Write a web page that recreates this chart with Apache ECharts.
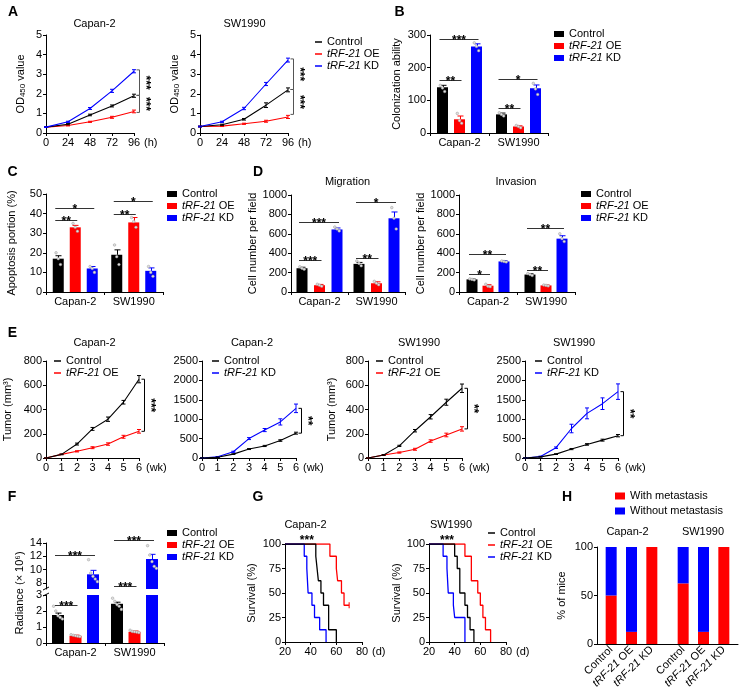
<!DOCTYPE html>
<html><head><meta charset="utf-8">
<script src="https://cdn.jsdelivr.net/npm/echarts@6.0.0/dist/echarts.min.js"></script>
<style>html,body{margin:0;padding:0;background:#fff;}#chart{width:749px;height:689px;}</style>
</head><body><div id="chart"></div>
<script>
// ================= DATA =================
const cellLines = ['Capan-2', 'SW1990'];
const groupNames = ['Control', 'tRF-21 OE', 'tRF-21 KD'];

// A: OD450 growth curves
const hoursA = [0, 24, 48, 72, 96];
const odCapanCtrl = [0.30, 0.45, 0.92, 1.38, 1.90];
const odCapanOE   = [0.30, 0.38, 0.57, 0.80, 1.10];
const odCapanKD   = [0.30, 0.57, 1.25, 2.15, 3.15];
const odCapanCtrlErr = [0.02, 0.03, 0.04, 0.05, 0.08];
const odCapanOEErr   = [0.02, 0.02, 0.03, 0.05, 0.07];
const odCapanKDErr   = [0.02, 0.03, 0.05, 0.08, 0.08];
const odSwCtrl = [0.33, 0.42, 0.70, 1.42, 2.20];
const odSwOE   = [0.33, 0.35, 0.47, 0.60, 0.82];
const odSwKD   = [0.33, 0.57, 1.25, 2.50, 3.72];
const odSwCtrlErr = [0.02, 0.03, 0.04, 0.12, 0.10];
const odSwOEErr   = [0.02, 0.02, 0.03, 0.05, 0.08];
const odSwKDErr   = [0.02, 0.03, 0.06, 0.08, 0.10];

// B: colonization ability [Capan-2, SW1990]
const colonyCtrl = [140, 57];
const colonyOE   = [42, 20];
const colonyKD   = [265, 137];
const colonyCtrlErr = [6, 4];
const colonyOEErr   = [10, 2];
const colonyKDErr   = [8, 10];
const colonyCtrlDots = [[146, 138, 127], [62, 57, 52]];
const colonyOEDots   = [[60, 38, 30], [23, 20, 16]];
const colonyKDDots   = [[276, 265, 252], [152, 135, 118]];

// C: apoptosis portion (%)
const apoCtrl = [17, 19];
const apoOE   = [33, 35.5];
const apoKD   = [12, 10.8];
const apoCtrlErr = [1.5, 2.5];
const apoOEErr   = [1.0, 2.5];
const apoKDErr   = [1.0, 1.5];
const apoCtrlDots = [[20, 17, 14], [24, 18, 14]];
const apoOEDots   = [[35, 33, 31], [38, 36, 33]];
const apoKDDots   = [[13, 12, 10], [13, 10, 8]];

// D: migration / invasion cell number per field
const migCtrl = [245, 290];
const migOE   = [70, 90];
const migKD   = [645, 760];
const migCtrlErr = [10, 15];
const migOEErr   = [8, 15];
const migKDErr   = [15, 65];
const migCtrlDots = [[260, 245, 235], [320, 295, 270]];
const migOEDots   = [[80, 70, 60], [110, 90, 75]];
const migKDDots   = [[670, 650, 630], [870, 760, 650]];
const invCtrl = [130, 180];
const invOE   = [65, 68];
const invKD   = [315, 550];
const invCtrlErr = [5, 8];
const invOEErr   = [10, 5];
const invKDErr   = [8, 30];
const invCtrlDots = [[135, 130, 125], [190, 180, 170]];
const invOEDots   = [[80, 60, 55], [72, 68, 63]];
const invKDDots   = [[320, 315, 310], [600, 550, 520]];

// E: tumor volume (mm3) by week
const weeksE = [0, 1, 2, 3, 4, 5, 6];
const tumorCapanCtrl  = [0, 30, 115, 240, 320, 460, 650];
const tumorCapanOE    = [0, 30, 55, 85, 115, 175, 220];
const tumorCapanCtrlErr = [0, 3, 8, 12, 18, 15, 30];
const tumorCapanOEErr   = [0, 2, 5, 8, 10, 12, 15];
const tumorCapan2Ctrl = [0, 20, 100, 230, 310, 450, 640];
const tumorCapan2KD   = [0, 30, 160, 500, 720, 930, 1280];
const tumorCapan2CtrlErr = [0, 4, 8, 12, 15, 20, 25];
const tumorCapan2KDErr   = [0, 5, 15, 25, 40, 80, 110];
const tumorSwCtrl = [0, 25, 100, 225, 340, 460, 575];
const tumorSwOE   = [0, 25, 45, 72, 140, 190, 240];
const tumorSwCtrlErr = [0, 3, 5, 10, 18, 25, 35];
const tumorSwOEErr   = [0, 3, 5, 8, 10, 15, 18];
const tumorSw2Ctrl = [0, 30, 100, 230, 350, 460, 575];
const tumorSw2KD   = [0, 40, 265, 760, 1150, 1400, 1710];
const tumorSw2CtrlErr = [0, 5, 10, 15, 20, 25, 30];
const tumorSw2KDErr   = [0, 8, 20, 110, 140, 150, 200];

// F: radiance (x10^6)
const radCtrl = [1.75, 2.45];
const radOE   = [0.45, 0.70];
const radKD   = [9.3, 11.6];
const radCtrlErr = [0.12, 0.10];
const radOEErr   = [0.04, 0.05];
const radKDErr   = [0.6, 0.7];
const radCtrlDots = [[2.3, 2.0, 1.7, 1.6, 1.5], [2.8, 2.6, 2.4, 2.3, 2.1]];
const radOEDots   = [[0.52, 0.48, 0.45, 0.42, 0.40], [0.80, 0.72, 0.70, 0.68, 0.65]];
const radKDDots   = [[11.5, 9.5, 9.0, 8.6, 8.2], [13.6, 12.2, 11.2, 10.5, 10.2]];

// G: survival (%) by day
const survCapanCtrlDays = [20, 44, 45, 46, 48, 50, 54, 60];
const survCapanCtrl     = [100, 87.5, 75, 62.5, 50, 37.5, 12.5, 0];
const survCapanOEDays   = [20, 55, 60, 61, 64, 66, 70];
const survCapanOE       = [100, 87.5, 75, 62.5, 50, 37.5, 37.5];
const survCapanKDDays   = [20, 35, 37, 38, 41, 43, 47, 52];
const survCapanKD       = [100, 87.5, 75, 50, 37.5, 25, 12.5, 0];
const survSwCtrlDays = [20, 40, 42, 44, 48, 50, 52, 55];
const survSwCtrl     = [100, 87.5, 75, 50, 37.5, 25, 12.5, 0];
const survSwOEDays   = [20, 48, 53, 58, 60, 62, 64, 68];
const survSwOE       = [100, 87.5, 62.5, 50, 37.5, 25, 12.5, 0];
const survSwKDDays   = [20, 31, 34, 35, 39, 40, 48];
const survSwKD       = [100, 87.5, 75, 50, 37.5, 25, 0];
const censorCapanOE = [[70, 37.5]];

// H: % of mice with / without metastasis
const metCats = ['Control', 'tRF-21 OE', 'tRF-21 KD'];
const metCapanWith    = [50, 12.5, 100];
const metCapanWithout = [50, 87.5, 0];
const metSwWith       = [62.5, 12.5, 100];
const metSwWithout    = [37.5, 87.5, 0];

// ================= STYLE / HELPERS =================
const F = '"Liberation Sans", Arial, Helvetica, sans-serif';
const COL = ['#000000', '#ff0000', '#0000ff'];
const grids = [], xAxes = [], yAxes = [], series = [], legends = [], graphics = [];

const AL = {show: true, onZero: false, lineStyle: {color: '#000', width: 1}};
const AT = {show: true, length: 3, lineStyle: {color: '#000', width: 1}};
function lbl(o) { return Object.assign({color: '#000', fontFamily: F, fontSize: 11, margin: 4}, o || {}); }
function plain(v) { return String(v); }
function vAxis(min, max, interval, o) {
  return Object.assign({type: 'value', min: min, max: max, interval: interval, axisLine: AL, axisTick: AT,
    axisLabel: lbl({formatter: plain}), splitLine: {show: false}}, o || {});
}
function catAxis(o) {
  return Object.assign({type: 'category', data: cellLines, axisLine: AL,
    axisTick: {show: true, length: 3, lineStyle: {color: '#000'}},
    axisLabel: lbl({fontSize: 11, margin: 4, interval: 0}), splitLine: {show: false}}, o || {});
}
function yName(name, gap, rich) {
  return {name: name, nameLocation: 'middle', nameGap: gap,
    nameTextStyle: {color: '#000', fontFamily: F, fontSize: 11, rich: rich}};
}
function xEndName(name, gap) {
  return {name: name, nameLocation: 'end', nameGap: gap,
    nameTextStyle: {color: '#000', fontFamily: F, fontSize: 11, align: 'left', verticalAlign: 'top', padding: [4, 0, 0, 0]}};
}
function addGrid(g, x, y) {
  const gi = grids.length;
  grids.push(Object.assign({containLabel: false, outerBoundsMode: 'none'}, g));
  xAxes.push(Object.assign({gridIndex: gi}, x));
  yAxes.push(Object.assign({gridIndex: gi}, y));
  return gi;
}
const richLegend = {
  i: {fontStyle: 'italic', fontFamily: F, fontSize: 11, color: '#000', lineHeight: 12},
  n: {fontFamily: F, fontSize: 11, color: '#000', lineHeight: 12}
};
function fmtName(n) { return n.indexOf('tRF-21') === 0 ? '{i|tRF-21}{n| ' + n.slice(7) + '}' : '{n|' + n + '}'; }
function addLegend(names, left, top, kind, o) {
  const bar = kind === 'bar';
  legends.push(Object.assign({orient: 'vertical', left: left, top: top, data: names, icon: 'rect',
    itemWidth: bar ? 10 : 7, itemHeight: bar ? 6 : 1.5, itemGap: 0, padding: 0, selectedMode: false,
    formatter: fmtName, textStyle: {color: '#000', fontFamily: F, fontSize: 11, lineHeight: 12, rich: richLegend}}, o || {}));
}
function txt(text, x, y, styleExtra, rotation) {
  graphics.push({type: 'text', x: x, y: y, rotation: rotation || 0, silent: true,
    style: Object.assign({text: text, fill: '#000', font: '11px ' + F, align: 'center', verticalAlign: 'middle'}, styleExtra || {})});
}
const STAR_FONT = 'bold 12px ' + F;

function errLine(gi, xs, ys, es, color) {
  return {type: 'custom', xAxisIndex: gi, yAxisIndex: gi, silent: true, z: 4,
    data: xs.map((x, i) => [x, ys[i], es[i]]),
    renderItem(p, api) {
      const x = api.value(0), y = api.value(1), e = api.value(2);
      const t = api.coord([x, y + e]), b = api.coord([x, y - e]);
      const st = {stroke: color, lineWidth: 1};
      return {type: 'group', children: [
        {type: 'line', shape: {x1: t[0], y1: t[1], x2: b[0], y2: b[1]}, style: st},
        {type: 'line', shape: {x1: t[0] - 2, y1: t[1], x2: t[0] + 2, y2: t[1]}, style: st},
        {type: 'line', shape: {x1: b[0] - 2, y1: b[1], x2: b[0] + 2, y2: b[1]}, style: st}]};
    }};
}
function lineSer(gi, name, color, xs, ys, w) {
  return {type: 'line', name: name, xAxisIndex: gi, yAxisIndex: gi, data: xs.map((x, i) => [x, ys[i]]),
    symbol: 'none', lineStyle: {color: color, width: w || 1.2}, itemStyle: {color: color}, z: 3, silent: true};
}
function vBracket(gi, x, segs, labels, dx, color) {
  return {type: 'custom', xAxisIndex: gi, yAxisIndex: gi, silent: true, z: 6,
    data: segs.map(s => [x, s[0], s[1]]),
    renderItem(p, api) {
      const a = api.coord([api.value(0), api.value(1)]), b = api.coord([api.value(0), api.value(2)]);
      const X = Math.round(a[0] + dx) + 0.5; const st = {stroke: color, lineWidth: 1};
      return {type: 'group', children: [
        {type: 'line', shape: {x1: X, y1: a[1], x2: X, y2: b[1]}, style: st},
        {type: 'line', shape: {x1: X - 3, y1: a[1], x2: X, y2: a[1]}, style: st},
        {type: 'line', shape: {x1: X - 3, y1: b[1], x2: X, y2: b[1]}, style: st},
        {type: 'text', x: X + 6, y: (a[1] + b[1]) / 2, rotation: -Math.PI / 2,
          style: {text: labels[p.dataIndex], align: 'center', verticalAlign: 'middle', fill: '#000', font: STAR_FONT}}]};
    }};
}
function barErr(gi, vals, errs, step, keep) {
  const data = [];
  for (let k = 0; k < 3; k++) for (let c = 0; c < vals[k].length; c++)
    if (keep(vals[k][c])) data.push([c, k, vals[k][c], errs[k][c]]);
  return {type: 'custom', xAxisIndex: gi, yAxisIndex: gi, silent: true, z: 4, data: data,
    renderItem(p, api) {
      const c = api.value(0), k = api.value(1), v = api.value(2), e = api.value(3);
      const base = api.coord([c, v]); const x = Math.round(base[0] + (k - 1) * step) + 0.5;
      const yt = api.coord([c, v + e])[1]; const col = COL[k];
      return {type: 'group', children: [
        {type: 'line', shape: {x1: x, y1: base[1], x2: x, y2: yt}, style: {stroke: col, lineWidth: 1}},
        {type: 'line', shape: {x1: x - 3, y1: yt, x2: x + 3, y2: yt}, style: {stroke: col, lineWidth: 1}}]};
    }};
}
function barDots(gi, dots, step, keep) {
  const data = [];
  dots.forEach((grp, k) => grp.forEach((arr, c) => arr.forEach((v, j) => { if (keep(v)) data.push([c, k, v, j, arr.length]); })));
  return {type: 'custom', xAxisIndex: gi, yAxisIndex: gi, silent: true, z: 5, data: data,
    renderItem(p, api) {
      const c = api.value(0), k = api.value(1), v = api.value(2), j = api.value(3), n = api.value(4);
      const pt = api.coord([c, v]);
      const x = pt[0] + (k - 1) * step + (j - (n - 1) / 2) * 2.2;
      return {type: 'circle', shape: {cx: x, cy: pt[1], r: 1.3}, style: {fill: '#e0e0e0', stroke: '#999', lineWidth: 0.5}};
    }};
}
function barBrackets(gi, list, step) {
  return {type: 'custom', xAxisIndex: gi, yAxisIndex: gi, silent: true, z: 6,
    data: list.map(b => [b[0], b[1], b[2], b[3]]),
    renderItem(p, api) {
      const c = api.value(0), k1 = api.value(1), k2 = api.value(2), y = api.value(3);
      const pt = api.coord([c, y]); const yy = Math.round(pt[1]) + 0.5;
      const x1 = pt[0] + (k1 - 1) * step - 3, x2 = pt[0] + (k2 - 1) * step + 2;
      return {type: 'group', children: [
        {type: 'line', shape: {x1: x1, y1: yy, x2: x2, y2: yy}, style: {stroke: '#333', lineWidth: 1}},
        {type: 'text', x: (x1 + x2) / 2, y: yy + 1, style: {text: list[p.dataIndex][4], align: 'center', verticalAlign: 'middle', fill: '#000', font: STAR_FONT}}]};
    }};
}
function addBarPanel(c) {
  const gi = addGrid(c.grid, catAxis(c.xOpt), vAxis(c.yMin, c.yMax, c.yInt, c.yOpt));
  const gap = ((c.step - c.bw) / c.bw * 100).toFixed(1) + '%';
  for (let k = 0; k < 3; k++)
    series.push({type: 'bar', name: groupNames[k], xAxisIndex: gi, yAxisIndex: gi, data: c.vals[k], barWidth: c.bw,
      barGap: gap, itemStyle: {color: COL[k]}, clip: true, z: 2, silent: true});
  const keep = c.keep || (() => true);
  series.push(barErr(gi, c.vals, c.errs, c.step, keep));
  series.push(barDots(gi, c.dots, c.step, keep));
  if (c.brackets) series.push(barBrackets(gi, c.brackets, c.step));
  return gi;
}

// ================= PANEL A =================
const odRich = {a: {fontSize: 11, fontFamily: F, color: '#000', lineHeight: 12},
  s: {fontSize: 8, fontFamily: F, color: '#000', verticalAlign: 'bottom', lineHeight: 8, padding: [6, 0, 0, 0]}};
[[46, odCapanCtrl, odCapanOE, odCapanKD, odCapanCtrlErr, odCapanOEErr, odCapanKDErr, [[3.22, 1.92], [1.92, 1.05]]],
 [200, odSwCtrl, odSwOE, odSwKD, odSwCtrlErr, odSwOEErr, odSwKDErr, [[3.78, 2.22], [2.22, 0.95]]]].forEach(d => {
  const gi = addGrid({left: d[0], top: 35, width: 88, height: 98},
    vAxis(0, 96, 24, xEndName('(h)', 9)),
    vAxis(0, 5, 1, yName('{a|OD}{s|450}{a| value}', 19, odRich)));
  [[1, d[2], d[5]], [0, d[1], d[4]], [2, d[3], d[6]]].forEach(l => {
    series.push(lineSer(gi, groupNames[l[0]], COL[l[0]], hoursA, l[1], 1.1));
    series.push(errLine(gi, hoursA, l[1], l[2], COL[l[0]]));
  });
  series.push(vBracket(gi, 96, d[7], ['***', '***'], 5, '#555'));
});
addLegend(groupNames, 315, 36, 'line', {textStyle: {color: '#000', fontFamily: F, fontSize: 11, lineHeight: 11.5, rich: richLegend}});

// ================= PANEL B =================
addBarPanel({grid: {left: 430, top: 35, width: 118, height: 98}, yMin: 0, yMax: 300, yInt: 100,
  yOpt: yName('Colonization ability', 28), bw: 11, step: 17,
  vals: [colonyCtrl, colonyOE, colonyKD], errs: [colonyCtrlErr, colonyOEErr, colonyKDErr],
  dots: [colonyCtrlDots, colonyOEDots, colonyKDDots],
  brackets: [[0, 0, 1, 162, '**'], [0, 0, 2, 287, '***'], [1, 0, 1, 77, '**'], [1, 0, 2, 164, '*']]});
addLegend(groupNames, 554, 28, 'bar');

// ================= PANEL C =================
addBarPanel({grid: {left: 46, top: 194, width: 117, height: 98}, yMin: 0, yMax: 50, yInt: 10,
  yOpt: yName('Apoptosis portion (%)', 29), bw: 11, step: 17,
  vals: [apoCtrl, apoOE, apoKD], errs: [apoCtrlErr, apoOEErr, apoKDErr],
  dots: [apoCtrlDots, apoOEDots, apoKDDots],
  brackets: [[0, 0, 1, 36.8, '**'], [0, 0, 2, 43.1, '*'], [1, 0, 1, 39.7, '**'], [1, 0, 2, 46.2, '*']]});
addLegend(groupNames, 167, 188, 'bar');

// ================= PANEL D =================
addBarPanel({grid: {left: 291, top: 195, width: 114, height: 97}, yMin: 0, yMax: 1000, yInt: 200,
  yOpt: yName('Cell number per field', 33), bw: 11, step: 17.5,
  vals: [migCtrl, migOE, migKD], errs: [migCtrlErr, migOEErr, migKDErr],
  dots: [migCtrlDots, migOEDots, migKDDots],
  brackets: [[0, 0, 1, 330, '***'], [0, 0, 2, 725, '***'], [1, 0, 1, 354, '**'], [1, 0, 2, 931, '*']]});
addBarPanel({grid: {left: 459, top: 195, width: 116, height: 97}, yMin: 0, yMax: 1000, yInt: 200,
  yOpt: yName('Cell number per field', 32), bw: 11, step: 16,
  vals: [invCtrl, invOE, invKD], errs: [invCtrlErr, invOEErr, invKDErr],
  dots: [invCtrlDots, invOEDots, invKDDots],
  brackets: [[0, 0, 1, 182, '*'], [0, 0, 2, 392, '**'], [1, 0, 1, 224, '**'], [1, 0, 2, 663, '**']]});
addLegend(groupNames, 581, 188, 'bar');

// ================= PANEL E =================
[[46, 93, 800, 200, 33, tumorCapanCtrl, tumorCapanCtrlErr, 1, tumorCapanOE, tumorCapanOEErr, '***'],
 [202, 94, 2500, 500, 0, tumorCapan2Ctrl, tumorCapan2CtrlErr, 2, tumorCapan2KD, tumorCapan2KDErr, '**'],
 [368, 94, 800, 200, 31, tumorSwCtrl, tumorSwCtrlErr, 1, tumorSwOE, tumorSwOEErr, '**'],
 [525, 93, 2500, 500, 0, tumorSw2Ctrl, tumorSw2CtrlErr, 2, tumorSw2KD, tumorSw2KDErr, '**']].forEach(d => {
  const gi = addGrid({left: d[0], top: 361, width: d[1], height: 97},
    vAxis(0, 6, 1, xEndName('(wk)', 7)),
    vAxis(0, d[2], d[3], d[4] ? yName('Tumor (mm³)', d[4]) : {}));
  series.push(lineSer(gi, groupNames[d[7]], COL[d[7]], weeksE, d[8], 1.1));
  series.push(errLine(gi, weeksE, d[8], d[9], COL[d[7]]));
  series.push(lineSer(gi, groupNames[0], COL[0], weeksE, d[5], 1.1));
  series.push(errLine(gi, weeksE, d[5], d[6], COL[0]));
  const hi = Math.max(d[5][6], d[8][6]), lo = Math.min(d[5][6], d[8][6]);
  series.push(vBracket(gi, 6, [[hi, lo]], [d[10]], 5, '#000'));
  addLegend([groupNames[0], groupNames[d[7]]], d[0] + (d[4] ? 8 : 10), 355, 'line',
    {textStyle: {color: '#000', fontFamily: F, fontSize: 11, lineHeight: 11, rich: richLegend}});
});

// ================= PANEL F (broken axis) =================
const fLow = addBarPanel({grid: {left: 46, top: 595, width: 118, height: 48}, yMin: 0, yMax: 3, yInt: 1,
  bw: 12, step: 17.5, vals: [radCtrl, radOE, radKD], errs: [radCtrlErr, radOEErr, radKDErr],
  dots: [radCtrlDots, radOEDots, radKDDots], keep: v => v <= 3,
  brackets: [[0, 0, 1, 2.39, '***']]});
addBarPanel({grid: {left: 46, top: 543, width: 118, height: 46}, yMin: 7.1, yMax: 14,
  xOpt: {show: false},
  yOpt: {axisLabel: lbl({customValues: [8, 10, 12, 14], formatter: plain}), axisTick: Object.assign({}, AT, {customValues: [8, 10, 12, 14]})},
  bw: 12, step: 17.5, vals: [radCtrl, radOE, radKD], errs: [radCtrlErr, radOEErr, radKDErr],
  dots: [radCtrlDots, radOEDots, radKDDots], keep: v => v > 7.1,
  brackets: [[0, 0, 2, 12.15, '***'], [1, 0, 1, 7.5, '***'], [1, 0, 2, 14.4, '***']]});
series.push({type: 'custom', xAxisIndex: fLow, yAxisIndex: fLow, silent: true, z: 7, data: [[0, 0]],
  renderItem(p) {
    const x = p.coordSys.x, y = p.coordSys.y;
    return {type: 'group', children: [
      {type: 'line', shape: {x1: x - 3, y1: y + 1, x2: x + 3, y2: y - 2}, style: {stroke: '#000', lineWidth: 1}},
      {type: 'line', shape: {x1: x - 3, y1: y - 5, x2: x + 3, y2: y - 8}, style: {stroke: '#000', lineWidth: 1}}]};
  }});
txt('Radiance (× 10⁶)', 20, 593, {}, Math.PI / 2);
addLegend(groupNames, 167, 527, 'bar');

// ================= PANEL G =================
function survSer(gi, name, color, days, vals) {
  return {type: 'line', name: name, xAxisIndex: gi, yAxisIndex: gi, step: 'end', symbol: 'none', silent: true,
    data: days.map((d, i) => [d, vals[i]]), lineStyle: {color: color, width: 1.3}, itemStyle: {color: color}};
}
function starSer(gi, x, y, label) {
  return {type: 'custom', xAxisIndex: gi, yAxisIndex: gi, silent: true, z: 6, data: [[x, y]],
    renderItem(p, api) {
      const pt = api.coord([api.value(0), api.value(1)]);
      return {type: 'text', x: pt[0], y: pt[1] - 3, style: {text: label, align: 'center', verticalAlign: 'middle', fill: '#000', font: STAR_FONT}};
    }};
}
const gG1 = addGrid({left: 285, top: 544, width: 77, height: 98},
  vAxis(20, 80, 20, xEndName('(d)', 10)), vAxis(0, 100, 25, yName('Survival (%)', 28)));
series.push(survSer(gG1, groupNames[1], COL[1], survCapanOEDays, survCapanOE));
series.push(survSer(gG1, groupNames[2], COL[2], survCapanKDDays, survCapanKD));
series.push(survSer(gG1, groupNames[0], COL[0], survCapanCtrlDays, survCapanCtrl));
series.push({type: 'scatter', xAxisIndex: gG1, yAxisIndex: gG1, silent: true, data: censorCapanOE,
  symbol: 'rect', symbolSize: [1.3, 6], itemStyle: {color: COL[1]}});
series.push(starSer(gG1, 37, 100, '***'));
const gG2 = addGrid({left: 429, top: 544, width: 77, height: 98},
  vAxis(20, 80, 20, xEndName('(d)', 10)), vAxis(0, 100, 25, yName('Survival (%)', 27)));
series.push(survSer(gG2, groupNames[1], COL[1], survSwOEDays, survSwOE));
series.push(survSer(gG2, groupNames[2], COL[2], survSwKDDays, survSwKD));
series.push(survSer(gG2, groupNames[0], COL[0], survSwCtrlDays, survSwCtrl));
series.push(starSer(gG2, 34, 100, '***'));
addLegend(groupNames, 488, 527, 'line', {textStyle: {color: '#000', fontFamily: F, fontSize: 11, lineHeight: 10.5, rich: richLegend}});

// ================= PANEL H =================
addGrid({left: 597, top: 547, width: 141, height: 97},
  {type: 'value', min: 0, max: 1, axisLine: AL, axisTick: {show: false}, axisLabel: {show: false}, splitLine: {show: false}},
  vAxis(0, 100, 50, yName('% of mice', 30)));
function hGrid(left, withVals, withoutVals) {
  const gi = addGrid({left: left, top: 547, width: 61, height: 97},
    {type: 'category', data: metCats, axisLine: {show: false}, axisTick: {show: false},
      axisLabel: lbl({fontSize: 11, rotate: 45, interval: 0, margin: 4, formatter: fmtName, rich: richLegend})},
    {type: 'value', min: 0, max: 100, show: false});
  series.push({type: 'bar', name: 'With metastasis', stack: 's' + gi, xAxisIndex: gi, yAxisIndex: gi, data: withVals,
    barWidth: 11, itemStyle: {color: '#ff0000'}, silent: true});
  series.push({type: 'bar', name: 'Without metastasis', stack: 's' + gi, xAxisIndex: gi, yAxisIndex: gi, data: withoutVals,
    barWidth: 11, itemStyle: {color: '#0000ff'}, silent: true});
}
hGrid(601, metCapanWith, metCapanWithout);
hGrid(673, metSwWith, metSwWithout);
legends.push({orient: 'vertical', left: 615, top: 490, data: ['With metastasis', 'Without metastasis'], icon: 'rect',
  itemWidth: 10, itemHeight: 7, itemGap: 3, padding: 0, selectedMode: false,
  textStyle: {color: '#000', fontFamily: F, fontSize: 11, lineHeight: 12}});

// ================= TITLES / LETTERS =================
const LET = {font: 'bold 14px ' + F};
txt('A', 13, 12.5, LET); txt('B', 399.5, 12.5, LET); txt('C', 12.5, 172, LET); txt('D', 258, 172, LET);
txt('E', 12.5, 333, LET); txt('F', 12, 497.5, LET); txt('G', 258, 497.5, LET); txt('H', 567, 497, LET);
txt('Capan-2', 94.5, 23.5); txt('SW1990', 244.5, 23.5);
txt('Migration', 347.5, 182); txt('Invasion', 516, 182);
txt('Capan-2', 94.5, 343); txt('Capan-2', 252, 343); txt('SW1990', 419, 343); txt('SW1990', 574, 343);
txt('Capan-2', 305.5, 525); txt('SW1990', 451, 525);
txt('Capan-2', 627.5, 532); txt('SW1990', 703, 532);

// ================= RENDER =================
const chart = echarts.init(document.getElementById('chart'), null, {renderer: 'canvas'});
chart.setOption({
  animation: false, backgroundColor: '#ffffff', textStyle: {fontFamily: F},
  grid: grids, xAxis: xAxes, yAxis: yAxes, series: series, legend: legends, graphic: graphics
});
</script></body></html>
